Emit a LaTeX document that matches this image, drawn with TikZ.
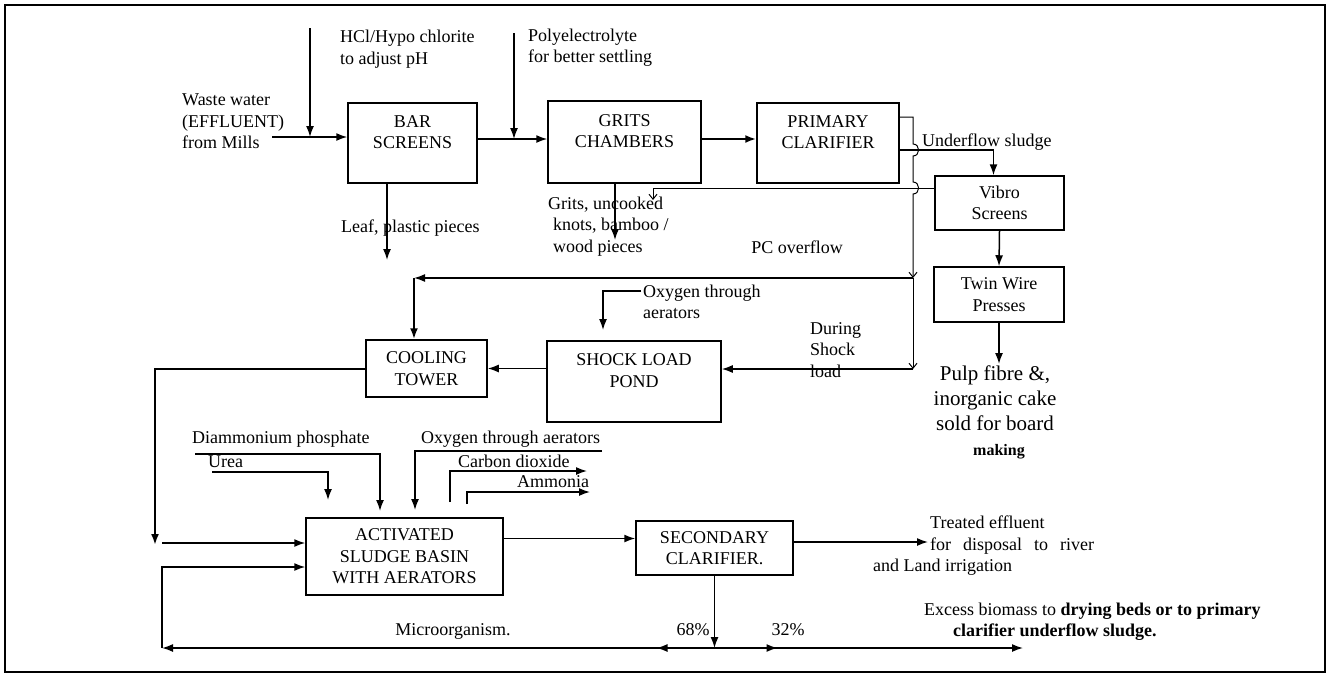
\documentclass[tikz,border=0pt]{standalone}
\usepackage{fontspec}
\setmainfont{Liberation Serif}
\usetikzlibrary{arrows.meta,decorations.markings}

\begin{document}
\begin{tikzpicture}[
            x=1pt, y=-1pt,
            every node/.style={font=\fontsize{18}{21.5}\selectfont, inner sep=2pt},
            unit/.style={draw, line width=1.5pt, align=center},
            txt/.style={align=left, anchor=west},
            flow/.style={draw, line width=1.5pt, -{Latex[length=11pt,width=8pt]}},
            thinflow/.style={draw, line width=1pt, -{Straight Barb[length=5pt,width=8pt]}},
            midarrow/.style={postaction={decorate, decoration={markings,
                mark=at position #1 with {\arrow{Latex[length=11pt,width=8pt]}}}}}]

            \useasboundingbox (0,0) rectangle (1327,675);
            \draw[line width=1.8pt] (5,5) rectangle (1325,672);

            \node[unit, minimum width=129pt, minimum height=80pt] (bar) at (412.5,143) {BAR\\SCREENS\\~};
            \node[unit, minimum width=153pt, minimum height=82pt] (grits) at (624.5,142) {GRITS\\CHAMBERS\\~};
            \node[unit, minimum width=142pt, minimum height=80pt] (pc) at (828,143) {PRIMARY\\CLARIFIER\\~};
            \node[unit, minimum width=129pt, minimum height=54pt] (vibro) at (999.5,203) {Vibro\\Screens};
            \node[unit, minimum width=130pt, minimum height=55pt] (twin) at (999,294.5) {Twin Wire\\Presses};
            \node[unit, minimum width=121pt, minimum height=57pt] (cool) at (426.5,368.5) {COOLING\\TOWER};
            \node[unit, minimum width=174pt, minimum height=81pt] (shock) at (634,381.5) {SHOCK LOAD\\POND\\~};
            \node[unit, minimum width=197pt, minimum height=77pt] (asb) at (404.5,556.5) {ACTIVATED\\SLUDGE BASIN\\WITH AERATORS};
            \node[unit, minimum width=157pt, minimum height=54pt] (sec) at (714.5,548) {SECONDARY\\CLARIFIER.};

            \node[txt] (ww) at (180,121.5) {Waste water\\(EFFLUENT)\\from Mills};
            \node[txt] (hcl) at (338,49) {HCl/Hypo chlorite\\to adjust pH};
            \node[txt] (poly) at (526,47.5) {Polyelectrolyte\\for better settling};
            \node[txt] (leaf) at (339,228) {Leaf, plastic pieces};
            \node[txt] (gritsout) at (546,226.5) {Grits, uncooked\\\hspace*{5pt}knots, bamboo /\\\hspace*{5pt}wood pieces};
            \node (pcover) at (797,247) {PC overflow};
            \node[txt] (uflow) at (920,142) {Underflow sludge};
            \node[align=center, anchor=north, font=\fontsize{21}{25}\selectfont] (pulp) at (995,364)
                {Pulp fibre \&,\\inorganic cake\\sold for board\\{\fontsize{16}{20}\selectfont\bfseries\ \ making}};
            \node[txt] (oxa) at (641,302) {Oxygen through\\aerators};
            \node[txt] (during) at (808,350) {During\\Shock\\load};
            \node[txt] (dap) at (190,439) {Diammonium phosphate};
            \node[txt] (urea) at (206,462) {Urea};
            \node[txt] (oxb) at (419,439) {Oxygen through aerators};
            \node[txt] (co2) at (456,461) {Carbon dioxide};
            \node[txt] (nh3) at (515,482) {Ammonia};
            \node[txt] (treated) at (928,535) {Treated effluent\\\makebox[164pt][s]{for disposal to river}};
            \node[txt] (land) at (871,567) {and Land irrigation};
            \node[txt] (excess) at (922,621.5) {Excess biomass to \textbf{drying beds or to primary}\\\hspace*{29pt}\textbf{clarifier underflow sludge.}};
            \node (micro) at (453,631) {Microorganism.};
            \node (p68) at (693,630) {68\%};
            \node (p32) at (788,630) {32\%};

            \coordinate (ww-out) at (272,137);
            \coordinate (hcl-in) at (310,28);
            \coordinate (poly-in) at (514,33);
            \coordinate (bar-out) at ([yshift=4pt]bar.east);
            \coordinate (grits-out) at ([yshift=3pt]grits.east);
            \coordinate (leaf-end) at (387,260);
            \coordinate (gr-end) at (615,240);
            \coordinate (vf-start) at ([yshift=15pt]vibro.west);
            \coordinate (vf-end) at (653,200);
            \coordinate (pc-top) at (913,117);
            \coordinate (j1) at (913,278);
            \coordinate (j2) at (913,369);
            \coordinate (ct) at (414,278);
            \coordinate (oxa-in) at ([yshift=11pt]oxa.west);
            \coordinate (oxa-end) at (603,330);
            \coordinate (c-down) at (155,545);
            \coordinate (c-in) at (162,543);
            \coordinate (m-in) at ([yshift=-10.5pt]asb.west);
            \coordinate (asb-out) at ([yshift=18pt]asb.east);
            \coordinate (sec-out) at ([yshift=6pt]sec.east);
            \coordinate (split) at (714.5,648);
            \coordinate (m-left) at (162,648);
            \coordinate (m-right) at (1023,648);
            \coordinate (dap-a) at (195,454);
            \coordinate (dap-b) at (380,511);
            \coordinate (urea-a) at (212,472);
            \coordinate (urea-b) at (328,500);
            \coordinate (oxb-a) at (602,451);
            \coordinate (oxb-b) at (415,510);
            \coordinate (co2-a) at (450,502);
            \coordinate (co2-b) at (587,471);
            \coordinate (nh3-a) at (467,504);
            \coordinate (nh3-b) at (590,492);

            \draw[flow] (ww-out) -- (ww-out -| bar.west);
            \draw[flow] (hcl-in) -- (hcl-in |- ww-out);
            \draw[flow] (bar-out) -- (bar-out -| grits.west);
            \draw[flow] (poly-in) -- (poly-in |- bar-out);
            \draw[flow, line width=2pt] (grits-out) -- (grits-out -| pc.west);
            \draw[flow] ([xshift=-25.5pt]bar.south) -- (leaf-end);
            \draw[flow] ([xshift=-9.5pt]grits.south) -- (gr-end);

            \draw[flow] ([yshift=-7pt]pc.east) -| ([xshift=-6pt]vibro.north);
            \draw[flow] (vibro.south) -- (twin.north);
            \draw[flow] (twin.south) -- (twin.south |- pulp.north);
            \draw[thinflow] (vf-start) -| (vf-end);

            \draw[thinflow] ([yshift=26pt]pc.east) -- (pc-top) -- ++(0,27) to[out=0,in=0,looseness=1.6] ++(0,12)
                -- ++(0,26) to[out=0,in=0,looseness=1.6] ++(0,12) -- (j1);
            \draw[thinflow] (j1) -- (j2);
            \draw[flow] (j2) -- (j2 -| shock.east);
            \draw[flow] (j1) -- (ct);
            \draw[flow, line width=2.4pt] (ct) -- (ct |- cool.north);
            \draw[flow] (oxa-in) -| (oxa-end);
            \draw[flow] (cool.east -| shock.west) -- (cool.east);

            \draw[flow, line width=2pt] (cool.west) -| (c-down);
            \draw[flow] (c-in) -- (c-in -| asb.west);
            \draw[flow] (dap-a) -| (dap-b);
            \draw[flow] (urea-a) -| (urea-b);
            \draw[flow] (oxb-a) -| (oxb-b);
            \draw[flow] (co2-a) |- (co2-b);
            \draw[flow] (nh3-a) |- (nh3-b);

            \draw[flow] (asb-out) -- (asb-out -| sec.west);
            \draw[flow] (sec-out) -- (sec-out -| treated.west);
            \draw[flow] (sec.south) -- (split);
            \draw[flow, midarrow=58pt] (split) -- (m-left);
            \draw[flow, midarrow=63pt] (split) -- (m-right);
            \draw[flow] (m-left) |- (m-in);
        \end{tikzpicture}
\end{document}
